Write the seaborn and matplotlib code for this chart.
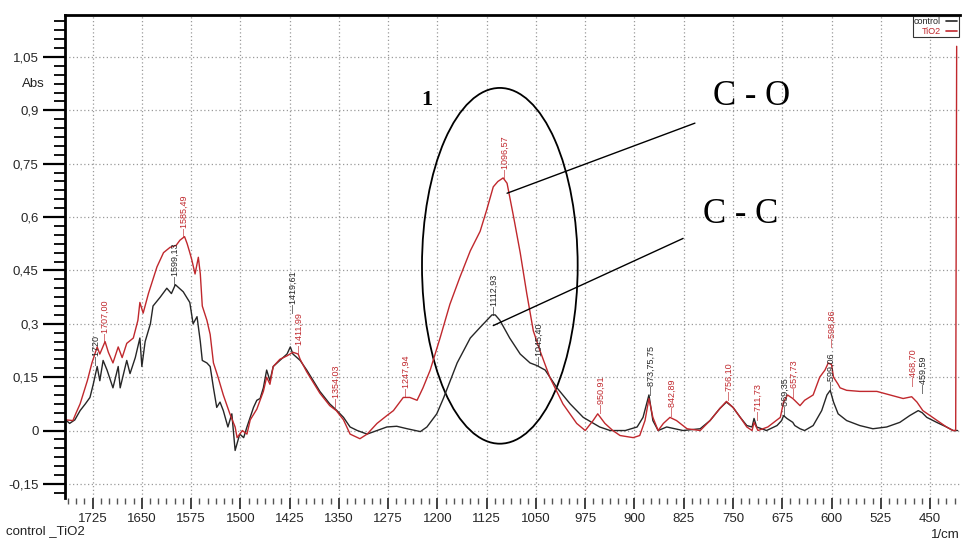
import numpy as np
import pandas as pd
import matplotlib.pyplot as plt
import seaborn as sns
from matplotlib.patches import Ellipse
from matplotlib.lines import Line2D
from matplotlib.ticker import AutoMinorLocator

# control spectrum (black)
control_wn = [1766, 1760, 1752, 1744, 1736, 1729, 1724, 1718, 1714, 1709, 1703, 1694, 1686, 1683,
              1673, 1668, 1660, 1653, 1650, 1645, 1637, 1633, 1622, 1612, 1605, 1599, 1593, 1587,
              1577, 1572, 1566, 1561, 1558, 1551, 1546, 1541, 1536, 1531, 1526, 1519, 1513, 1508,
              1501, 1495, 1490, 1480, 1475, 1470, 1465, 1460, 1455, 1450, 1440, 1429, 1424, 1420,
              1409, 1399, 1389, 1379, 1364, 1353, 1343, 1333, 1322, 1307, 1292, 1277, 1262, 1246,
              1226, 1216, 1201, 1191, 1170, 1150, 1135, 1117, 1112, 1105, 1090, 1074, 1059, 1049,
              1036, 1018, 998, 978, 953, 937, 914, 896, 887, 878, 872, 864, 851, 826, 800, 785,
              770, 760, 750, 739, 729, 721, 718, 714, 699, 683, 676, 673, 668, 659, 656, 648, 641,
              628, 615, 607, 602, 597, 590, 577, 557, 537, 516, 496, 481, 468, 462, 455, 440, 425,
              415, 408]
control_abs = [0.03, 0.02, 0.03, 0.056, 0.075, 0.093, 0.13, 0.18, 0.14, 0.197, 0.17, 0.12, 0.18, 0.12,
               0.197, 0.16, 0.205, 0.26, 0.18, 0.25, 0.30, 0.35, 0.375, 0.40, 0.385, 0.41, 0.40, 0.39,
               0.36, 0.30, 0.32, 0.25, 0.197, 0.19, 0.18, 0.12, 0.065, 0.08, 0.056, 0.01, 0.047, -0.056,
               -0.01, -0.02, 0.01, 0.065, 0.085, 0.09, 0.12, 0.17, 0.14, 0.18, 0.197, 0.215, 0.235, 0.215,
               0.197, 0.17, 0.14, 0.11, 0.075, 0.056, 0.037, 0.01, 0.0, -0.01, 0.0, 0.01, 0.012, 0.005,
               -0.003, 0.01, 0.047, 0.09, 0.19, 0.26, 0.29, 0.325, 0.325, 0.31, 0.26, 0.215, 0.19, 0.183,
               0.17, 0.12, 0.075, 0.037, 0.01, 0.0, 0.0, 0.01, 0.037, 0.10, 0.028, 0.0, 0.01, 0.0, 0.005, 0.028,
               0.062, 0.08, 0.065, 0.037, 0.014, 0.01, 0.034, 0.01, 0.0, 0.014, 0.028, 0.042, 0.034, 0.023, 0.014, 0.005, 0.0,
               0.014, 0.056, 0.10, 0.113, 0.08, 0.047, 0.028, 0.014, 0.005, 0.01, 0.023, 0.042, 0.056, 0.05, 0.037, 0.023, 0.01,
               0.0, 0.0]

# TiO2 spectrum (red)
tio2_wn = [1766, 1755, 1750, 1744, 1733, 1726, 1718, 1714, 1706, 1701, 1694, 1686, 1680, 1673,
           1663, 1656, 1653, 1648, 1640, 1634, 1627, 1617, 1607, 1598, 1592, 1585, 1581, 1577,
           1574, 1569, 1564, 1561, 1558, 1551, 1546, 1541, 1534, 1526, 1516, 1508, 1505, 1497,
           1490, 1485, 1475, 1465, 1460, 1455, 1450, 1440, 1429, 1420, 1412, 1409, 1399, 1389,
           1379, 1364, 1354, 1343, 1333, 1318, 1307, 1292, 1277, 1267, 1252, 1242, 1231, 1222,
           1211, 1196, 1181, 1166, 1150, 1135, 1125, 1115, 1108, 1100, 1094, 1084, 1074, 1064,
           1054, 1044, 1029, 1009, 988, 975, 963, 956, 945, 933, 922, 902, 892, 884, 878, 872,
           864, 856, 846, 836, 820, 800, 785, 770, 760, 750, 739, 729, 721, 718, 712, 697, 678,
           673, 667, 659, 648, 641, 628, 618, 610, 605, 600, 597, 590, 587, 577, 557, 531, 511,
           491, 478, 470, 461, 450, 435, 425, 415, 411, 409.5]
tio2_abs = [0.03, 0.028, 0.05, 0.075, 0.14, 0.19, 0.235, 0.215, 0.25, 0.22, 0.19, 0.235, 0.205, 0.245,
            0.26, 0.31, 0.36, 0.33, 0.385, 0.42, 0.46, 0.50, 0.515, 0.52, 0.535, 0.545, 0.525, 0.50,
            0.48, 0.44, 0.487, 0.44, 0.35, 0.31, 0.27, 0.19, 0.15, 0.10, 0.047, 0.01, -0.02, 0.0,
            -0.01, 0.03, 0.06, 0.11, 0.15, 0.13, 0.18, 0.20, 0.21, 0.22, 0.215, 0.20, 0.165, 0.135,
            0.105, 0.07, 0.056, 0.03, -0.01, -0.023, -0.01, 0.02, 0.042, 0.056, 0.093, 0.093, 0.085, 0.12,
            0.17, 0.26, 0.355, 0.43, 0.505, 0.56, 0.62, 0.685, 0.70, 0.71, 0.695, 0.60, 0.50, 0.385,
            0.28, 0.225, 0.15, 0.075, 0.02, 0.0, 0.028, 0.047, 0.02, 0.0, -0.014, -0.02, -0.014, 0.028, 0.09, 0.037,
            0.0, 0.02, 0.037, 0.028, 0.005, 0.0, 0.028, 0.062, 0.082, 0.065, 0.037, 0.01, 0.0, 0.023, 0.0, 0.01, 0.037,
            0.08, 0.10, 0.09, 0.07, 0.085, 0.10, 0.15, 0.17, 0.19, 0.185, 0.15, 0.13, 0.12, 0.113, 0.11, 0.11, 0.10,
            0.09, 0.095, 0.08, 0.056, 0.042, 0.023, 0.01, 0.0, 0.0, 1.08]

# peak labels: wavenumber, anchor absorbance, text
red_peaks = [(1706, 0.25, "1707,00"), (1585, 0.545, "1585,49"), (1411, 0.215, "1411,99"),
             (1354, 0.065, "1354,03"), (1248, 0.095, "1247,94"), (1096, 0.71, "1096,57"),
             (951, 0.05, "950,91"), (842, 0.04, "842,89"), (756, 0.085, "756,10"),
             (712, 0.03, "711,73"), (657, 0.095, "657,73"), (599, 0.235, "598,86"),
             (475, 0.125, "468,70")]
black_peaks = [(1719, 0.185, "1720"), (1599, 0.41, "1599,13"), (1419, 0.33, "1419,61"),
               (1113, 0.325, "1112,93"), (1045, 0.185, "1045,40"), (874, 0.10, "873,75,75"),
               (670, 0.045, "669,35"), (601, 0.113, "599,06"), (460, 0.105, "459,59")]

x_ticks = [1725, 1650, 1575, 1500, 1425, 1350, 1275, 1200, 1125, 1050, 975, 900, 825, 750, 675, 600, 525, 450]
y_ticks = [1.05, 0.9, 0.75, 0.6, 0.45, 0.3, 0.15, 0, -0.15]
y_tick_labels = ["1,05", "0,9", "0,75", "0,6", "0,45", "0,3", "0,15", "0", "-0,15"]

BLACK = "#262626"
RED = "#c0282d"

sns.set_theme(style="white")
plt.rcParams["font.family"] = ["Liberation Sans", "DejaVu Sans"]

df = pd.concat([
    pd.DataFrame({"wn": control_wn, "abs": control_abs, "sample": "control"}),
    pd.DataFrame({"wn": tio2_wn, "abs": tio2_abs, "sample": "TiO2"}),
])

fig = plt.figure(figsize=(9.63, 5.45), dpi=100)
ax = fig.add_axes([0.0675, 0.086, 0.929, 0.8865])

sns.lineplot(data=df, x="wn", y="abs", hue="sample", palette={"control": BLACK, "TiO2": RED},
             estimator=None, sort=False, linewidth=1.0, ax=ax, legend=False)

ax.set_xlim(1767, 405)
ax.set_ylim(-0.19, 1.168)
ax.set_xticks(x_ticks)
ax.set_yticks(y_ticks)
ax.set_yticklabels(y_tick_labels)
ax.xaxis.set_minor_locator(AutoMinorLocator(6))
ax.yaxis.set_minor_locator(AutoMinorLocator(6))
ax.set_xlabel("")
ax.set_ylabel("")

ax.grid(True, which="major", color="#9a9a9a", linestyle=(0, (1, 2)), linewidth=0.9)
for s in ["right", "bottom"]:
    ax.spines[s].set_visible(False)
for s in ["top", "left"]:
    ax.spines[s].set_visible(True)
    ax.spines[s].set_color("black")
    ax.spines[s].set_linewidth(2)

ax.tick_params(axis="y", which="major", direction="out", length=16, width=1.6, color="black",
               labelsize=9.5, pad=3, left=True)
ax.tick_params(axis="y", which="minor", direction="out", length=8, width=1.3, color="black", left=True)
ax.tick_params(axis="x", which="major", direction="out", length=8, width=1.3, color="#333333",
               labelsize=9.5, pad=3, bottom=True)
ax.tick_params(axis="x", which="minor", direction="out", length=4, width=1.0, color="#555555", bottom=True)

for xw, yv, txt in red_peaks:
    ax.text(xw, yv, "\u2014" + txt, rotation=90, ha="center", va="bottom", fontsize=6.5,
            color=RED)
for xw, yv, txt in black_peaks:
    ax.text(xw, yv, "\u2014" + txt, rotation=90, ha="center", va="bottom", fontsize=6.5,
            color=BLACK)

# annotation: ellipse, region number and bond labels
ax.add_patch(Ellipse((1105, 0.463), 237, 1.0, fill=False, edgecolor="black", linewidth=1.3))
ax.text(1216, 0.93, "1", fontsize=16, fontweight="bold", family="Liberation Serif",
        ha="center", va="center", color="black")
ax.text(722, 0.94, "C - O", fontsize=25, family="Liberation Serif", ha="center", va="center", color="black")
ax.text(738, 0.608, "C - C", fontsize=25, family="Liberation Serif", ha="center", va="center", color="black")
ax.plot([1094, 808], [0.667, 0.864], color="black", linewidth=1.0)
ax.plot([1115, 826], [0.295, 0.54], color="black", linewidth=1.0)

handles = [Line2D([], [], color=BLACK, lw=1.2), Line2D([], [], color=RED, lw=1.2)]
leg = ax.legend(handles, ["control", "TiO2"], loc="upper right", markerfirst=False, fontsize=6.5,
                labelcolor=[BLACK, RED], frameon=True, fancybox=False, edgecolor="black",
                borderpad=0.15, handlelength=1.3, labelspacing=0.05, borderaxespad=0.1,
                handletextpad=0.5)
leg.get_frame().set_linewidth(0.8)

fig.text(45 / 963, 1 - 84 / 545, "Abs", ha="right", va="center", fontsize=9.5, color="#222222")
fig.text(0.006, 1 - 531 / 545, "control _TiO2", ha="left", va="center", fontsize=9.5, color="#222222")
fig.text(0.997, 1 - 535 / 545, "1/cm", ha="right", va="center", fontsize=9.5, color="#222222")

fig.savefig("out.png", dpi=100)
